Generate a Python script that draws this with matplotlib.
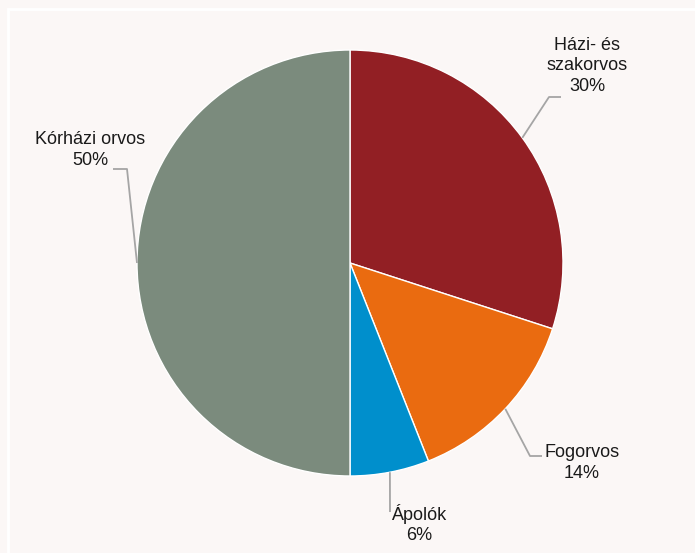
import numpy as np
import matplotlib.pyplot as plt
from matplotlib.patches import Rectangle

labels = ['Házi- és\nszakorvos', 'Fogorvos', 'Ápolók', 'Kórházi orvos']
values = [30, 14, 6, 50]
colors = ['#921F24', '#EA6B10', '#008FCC', '#7B8B7D']

# label layout in pixels (text centre, leader elbow, leader end)
text_px = [(587, 66), (582, 463), (419, 524), (90, 150)]
elbow_px = [(549, 97), (530, 456), (390, 512), (127, 169)]
end_px = [(561, 97), (542, 456), (390, 512), (113, 169)]

W, H = 695, 553
cx, cy, R = 350, 263, 213
bg = '#FBF7F6'

plt.rcParams['font.family'] = ['Liberation Sans', 'DejaVu Sans']

fig = plt.figure(figsize=(W / 100, H / 100), dpi=100)
fig.patch.set_facecolor(bg)

# white frame
fig.patches.append(Rectangle((7.5 / W, -0.05), 1.2, 1 - 8.5 / H + 0.05,
                             transform=fig.transFigure, fill=False,
                             edgecolor='white', linewidth=2))

ax = fig.add_axes([(cx - R) / W, (H - cy - R) / H, 2 * R / W, 2 * R / H])
ax.set_facecolor('none')
wedges, _ = ax.pie(values, colors=colors, startangle=90, counterclock=False,
                   radius=1, wedgeprops=dict(edgecolor='white', linewidth=1))
ax.set_xlim(-1, 1)
ax.set_ylim(-1, 1)
ax.axis('off')


def to_data(p):
    return (p[0] - cx) / R, (cy - p[1]) / R


for w, lab, v, tp, ep, np_ in zip(wedges, labels, values, text_px, elbow_px, end_px):
    ang = np.deg2rad((w.theta1 + w.theta2) / 2)
    start = (np.cos(ang), np.sin(ang))
    e = to_data(ep)
    n = to_data(np_)
    ax.plot([start[0], e[0], n[0]], [start[1], e[1], n[1]], color='#A5A5A5',
            linewidth=1.3, clip_on=False, solid_capstyle='butt')
    t = to_data(tp)
    ax.text(t[0], t[1], f'{lab}\n{v}%', ha='center', va='center', fontsize=13,
            color='#1A1A1A', linespacing=1.3)

fig.savefig('out.png', dpi=100, facecolor=bg)
